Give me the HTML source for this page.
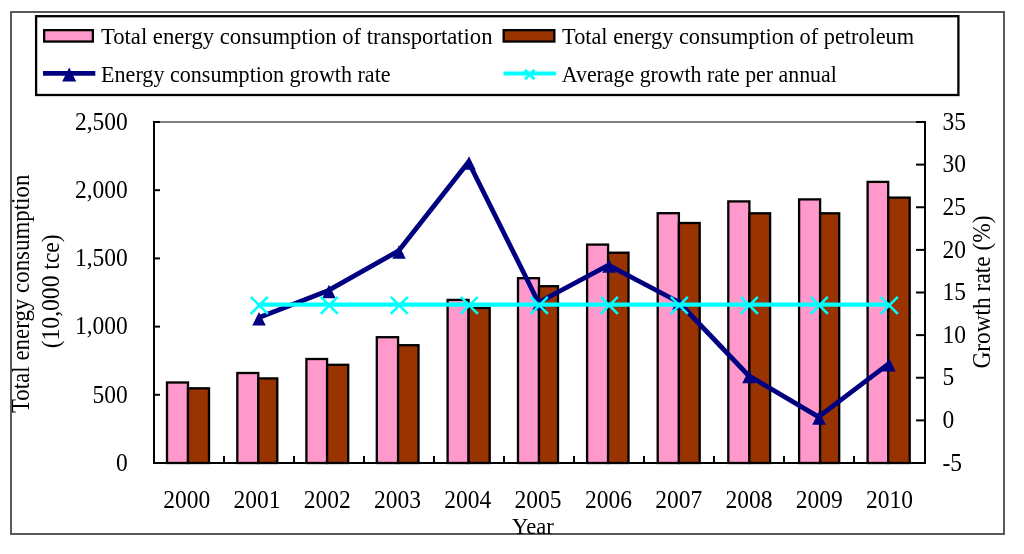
<!DOCTYPE html>
<html><head><meta charset="utf-8"><style>
html,body{margin:0;padding:0;background:#fff;width:1024px;height:554px;overflow:hidden}
svg{display:block;will-change:transform}
text{font-family:"Liberation Serif",serif;fill:#000}
</style></head><body>
<svg width="1024" height="554" viewBox="0 0 1024 554">
<rect x="0" y="0" width="1024" height="554" fill="#fff"/>
<rect x="11" y="12" width="993" height="522" fill="none" stroke="#484848" stroke-width="1.8"/>
<rect x="36.1" y="16.2" width="922.3" height="78.8" fill="none" stroke="#000" stroke-width="2.3"/>
<line x1="154.0" y1="122.0" x2="925.0" y2="122.0" stroke="#808080" stroke-width="2"/>
<rect x="167" y="382.5" width="21.00" height="80.50" fill="#FF99CC" stroke="#000" stroke-width="2.3"/>
<rect x="188" y="388.3" width="21.00" height="74.70" fill="#993300" stroke="#000" stroke-width="2.3"/>
<rect x="237.3" y="373" width="21.00" height="90.00" fill="#FF99CC" stroke="#000" stroke-width="2.3"/>
<rect x="258.3" y="378.4" width="19.00" height="84.60" fill="#993300" stroke="#000" stroke-width="2.3"/>
<rect x="306.4" y="359" width="20.70" height="104.00" fill="#FF99CC" stroke="#000" stroke-width="2.3"/>
<rect x="327.1" y="364.8" width="21.10" height="98.20" fill="#993300" stroke="#000" stroke-width="2.3"/>
<rect x="376.8" y="337.2" width="21.30" height="125.80" fill="#FF99CC" stroke="#000" stroke-width="2.3"/>
<rect x="398.1" y="345.2" width="20.40" height="117.80" fill="#993300" stroke="#000" stroke-width="2.3"/>
<rect x="447.6" y="299.9" width="21.00" height="163.10" fill="#FF99CC" stroke="#000" stroke-width="2.3"/>
<rect x="468.6" y="308" width="21.10" height="155.00" fill="#993300" stroke="#000" stroke-width="2.3"/>
<rect x="518" y="278.2" width="21.00" height="184.80" fill="#FF99CC" stroke="#000" stroke-width="2.3"/>
<rect x="539" y="286.2" width="19.00" height="176.80" fill="#993300" stroke="#000" stroke-width="2.3"/>
<rect x="587.1" y="244.6" width="21.00" height="218.40" fill="#FF99CC" stroke="#000" stroke-width="2.3"/>
<rect x="608.1" y="252.7" width="20.40" height="210.30" fill="#993300" stroke="#000" stroke-width="2.3"/>
<rect x="657.7" y="213.2" width="21.20" height="249.80" fill="#FF99CC" stroke="#000" stroke-width="2.3"/>
<rect x="678.9" y="223" width="20.80" height="240.00" fill="#993300" stroke="#000" stroke-width="2.3"/>
<rect x="728.3" y="201.4" width="21.10" height="261.60" fill="#FF99CC" stroke="#000" stroke-width="2.3"/>
<rect x="749.4" y="213.3" width="20.70" height="249.70" fill="#993300" stroke="#000" stroke-width="2.3"/>
<rect x="799.1" y="199.4" width="21.00" height="263.60" fill="#FF99CC" stroke="#000" stroke-width="2.3"/>
<rect x="820.1" y="213.3" width="19.10" height="249.70" fill="#993300" stroke="#000" stroke-width="2.3"/>
<rect x="867.6" y="181.9" width="20.60" height="281.10" fill="#FF99CC" stroke="#000" stroke-width="2.3"/>
<rect x="888.2" y="197.6" width="21.50" height="265.40" fill="#993300" stroke="#000" stroke-width="2.3"/>
<line x1="154.0" y1="121.0" x2="154.0" y2="464.0" stroke="#000" stroke-width="2"/>
<line x1="925.0" y1="121.0" x2="925.0" y2="464.0" stroke="#000" stroke-width="2"/>
<line x1="153.0" y1="463.0" x2="926.0" y2="463.0" stroke="#000" stroke-width="2"/>
<line x1="154.0" y1="122.00" x2="160.0" y2="122.00" stroke="#000" stroke-width="2"/>
<line x1="154.0" y1="190.20" x2="160.0" y2="190.20" stroke="#000" stroke-width="2"/>
<line x1="154.0" y1="258.40" x2="160.0" y2="258.40" stroke="#000" stroke-width="2"/>
<line x1="154.0" y1="326.60" x2="160.0" y2="326.60" stroke="#000" stroke-width="2"/>
<line x1="154.0" y1="394.80" x2="160.0" y2="394.80" stroke="#000" stroke-width="2"/>
<line x1="154.0" y1="463.00" x2="160.0" y2="463.00" stroke="#000" stroke-width="2"/>
<line x1="916.0" y1="122.00" x2="925.0" y2="122.00" stroke="#000" stroke-width="2"/>
<line x1="916.0" y1="164.62" x2="925.0" y2="164.62" stroke="#000" stroke-width="2"/>
<line x1="916.0" y1="207.25" x2="925.0" y2="207.25" stroke="#000" stroke-width="2"/>
<line x1="916.0" y1="249.88" x2="925.0" y2="249.88" stroke="#000" stroke-width="2"/>
<line x1="916.0" y1="292.50" x2="925.0" y2="292.50" stroke="#000" stroke-width="2"/>
<line x1="916.0" y1="335.12" x2="925.0" y2="335.12" stroke="#000" stroke-width="2"/>
<line x1="916.0" y1="377.75" x2="925.0" y2="377.75" stroke="#000" stroke-width="2"/>
<line x1="916.0" y1="420.38" x2="925.0" y2="420.38" stroke="#000" stroke-width="2"/>
<line x1="916.0" y1="463.00" x2="925.0" y2="463.00" stroke="#000" stroke-width="2"/>
<line x1="224.00" y1="456.0" x2="224.00" y2="463.0" stroke="#000" stroke-width="2"/>
<line x1="294.00" y1="456.0" x2="294.00" y2="463.0" stroke="#000" stroke-width="2"/>
<line x1="364.00" y1="456.0" x2="364.00" y2="463.0" stroke="#000" stroke-width="2"/>
<line x1="434.00" y1="456.0" x2="434.00" y2="463.0" stroke="#000" stroke-width="2"/>
<line x1="504.00" y1="456.0" x2="504.00" y2="463.0" stroke="#000" stroke-width="2"/>
<line x1="574.00" y1="456.0" x2="574.00" y2="463.0" stroke="#000" stroke-width="2"/>
<line x1="644.00" y1="456.0" x2="644.00" y2="463.0" stroke="#000" stroke-width="2"/>
<line x1="714.00" y1="456.0" x2="714.00" y2="463.0" stroke="#000" stroke-width="2"/>
<line x1="784.00" y1="456.0" x2="784.00" y2="463.0" stroke="#000" stroke-width="2"/>
<line x1="854.00" y1="456.0" x2="854.00" y2="463.0" stroke="#000" stroke-width="2"/>
<polyline points="258.50,317.70 328.50,290.40 398.50,250.90 468.50,162.00 538.50,302.50 608.50,265.10 678.50,302.00 748.50,375.50 818.50,416.90 888.50,363.80" fill="none" stroke="#000080" stroke-width="4.8" stroke-linejoin="round"/>
<polygon points="259.00,311.95 265.75,325.45 252.25,325.45" fill="#000080"/>
<polygon points="329.00,284.65 335.75,298.15 322.25,298.15" fill="#000080"/>
<polygon points="399.00,245.15 405.75,258.65 392.25,258.65" fill="#000080"/>
<polygon points="469.00,156.25 475.75,169.75 462.25,169.75" fill="#000080"/>
<polygon points="539.00,296.75 545.75,310.25 532.25,310.25" fill="#000080"/>
<polygon points="609.00,259.35 615.75,272.85 602.25,272.85" fill="#000080"/>
<polygon points="679.00,296.25 685.75,309.75 672.25,309.75" fill="#000080"/>
<polygon points="749.00,369.75 755.75,383.25 742.25,383.25" fill="#000080"/>
<polygon points="819.00,411.15 825.75,424.65 812.25,424.65" fill="#000080"/>
<polygon points="889.00,358.05 895.75,371.55 882.25,371.55" fill="#000080"/>
<line x1="259.00" y1="304.6" x2="889.00" y2="304.6" stroke="#00FFFF" stroke-width="4.3"/>
<path d="M250.80,296.80L267.80,313.80M250.80,313.80L267.80,296.80" stroke="#00FFFF" stroke-width="2.6" fill="none"/>
<path d="M320.80,296.80L337.80,313.80M320.80,313.80L337.80,296.80" stroke="#00FFFF" stroke-width="2.6" fill="none"/>
<path d="M390.80,296.80L407.80,313.80M390.80,313.80L407.80,296.80" stroke="#00FFFF" stroke-width="2.6" fill="none"/>
<path d="M460.80,296.80L477.80,313.80M460.80,313.80L477.80,296.80" stroke="#00FFFF" stroke-width="2.6" fill="none"/>
<path d="M530.80,296.80L547.80,313.80M530.80,313.80L547.80,296.80" stroke="#00FFFF" stroke-width="2.6" fill="none"/>
<path d="M600.80,296.80L617.80,313.80M600.80,313.80L617.80,296.80" stroke="#00FFFF" stroke-width="2.6" fill="none"/>
<path d="M670.80,296.80L687.80,313.80M670.80,313.80L687.80,296.80" stroke="#00FFFF" stroke-width="2.6" fill="none"/>
<path d="M740.80,296.80L757.80,313.80M740.80,313.80L757.80,296.80" stroke="#00FFFF" stroke-width="2.6" fill="none"/>
<path d="M810.80,296.80L827.80,313.80M810.80,313.80L827.80,296.80" stroke="#00FFFF" stroke-width="2.6" fill="none"/>
<path d="M880.80,296.80L897.80,313.80M880.80,313.80L897.80,296.80" stroke="#00FFFF" stroke-width="2.6" fill="none"/>
<rect x="44.15" y="30.15" width="48.7" height="11.4" fill="#FF99CC" stroke="#000" stroke-width="2.3"/>
<rect x="503.65" y="30.15" width="50.7" height="11.4" fill="#993300" stroke="#000" stroke-width="2.3"/>
<line x1="43" y1="73.4" x2="95.3" y2="73.4" stroke="#000080" stroke-width="4.6"/>
<polygon points="69.20,67.40 76.20,81.40 62.20,81.40" fill="#000080"/>
<line x1="503.5" y1="73.6" x2="555.9" y2="73.6" stroke="#00FFFF" stroke-width="4"/>
<path d="M524.95,69.75L534.45,79.25M524.95,79.25L534.45,69.75" stroke="#00FFFF" stroke-width="2.6" fill="none"/>
<text x="101.0" y="44.1" font-size="22.6" text-anchor="start" textLength="391.5" lengthAdjust="spacingAndGlyphs" >Total energy consumption of transportation</text>
<text x="562.1" y="44.1" font-size="22.6" text-anchor="start" textLength="352" lengthAdjust="spacingAndGlyphs" >Total energy consumption of petroleum</text>
<text x="101.1" y="81.8" font-size="22.6" text-anchor="start" textLength="289.5" lengthAdjust="spacingAndGlyphs" >Energy consumption growth rate</text>
<text x="561.8" y="81.6" font-size="22.6" text-anchor="start" textLength="275" lengthAdjust="spacingAndGlyphs" >Average growth rate per annual</text>
<text font-size="25" text-anchor="end" transform="translate(127.8,470.70) scale(0.94,1)">0</text>
<text font-size="25" text-anchor="end" transform="translate(127.8,402.50) scale(0.94,1)">500</text>
<text font-size="25" text-anchor="end" transform="translate(127.8,334.30) scale(0.94,1)">1,000</text>
<text font-size="25" text-anchor="end" transform="translate(127.8,266.10) scale(0.94,1)">1,500</text>
<text font-size="25" text-anchor="end" transform="translate(127.8,197.90) scale(0.94,1)">2,000</text>
<text font-size="25" text-anchor="end" transform="translate(127.8,129.70) scale(0.94,1)">2,500</text>
<text font-size="25" transform="translate(942.5,470.70) scale(0.94,1)">-5</text>
<text font-size="25" transform="translate(942.5,428.07) scale(0.94,1)">0</text>
<text font-size="25" transform="translate(942.5,385.45) scale(0.94,1)">5</text>
<text font-size="25" transform="translate(942.5,342.82) scale(0.94,1)">10</text>
<text font-size="25" transform="translate(942.5,300.20) scale(0.94,1)">15</text>
<text font-size="25" transform="translate(942.5,257.57) scale(0.94,1)">20</text>
<text font-size="25" transform="translate(942.5,214.95) scale(0.94,1)">25</text>
<text font-size="25" transform="translate(942.5,172.32) scale(0.94,1)">30</text>
<text font-size="25" transform="translate(942.5,129.70) scale(0.94,1)">35</text>
<text font-size="25" text-anchor="middle" transform="translate(186.65,507.5) scale(0.94,1)">2000</text>
<text font-size="25" text-anchor="middle" transform="translate(256.94,507.5) scale(0.94,1)">2001</text>
<text font-size="25" text-anchor="middle" transform="translate(327.23,507.5) scale(0.94,1)">2002</text>
<text font-size="25" text-anchor="middle" transform="translate(397.52,507.5) scale(0.94,1)">2003</text>
<text font-size="25" text-anchor="middle" transform="translate(467.81,507.5) scale(0.94,1)">2004</text>
<text font-size="25" text-anchor="middle" transform="translate(538.10,507.5) scale(0.94,1)">2005</text>
<text font-size="25" text-anchor="middle" transform="translate(608.39,507.5) scale(0.94,1)">2006</text>
<text font-size="25" text-anchor="middle" transform="translate(678.68,507.5) scale(0.94,1)">2007</text>
<text font-size="25" text-anchor="middle" transform="translate(748.97,507.5) scale(0.94,1)">2008</text>
<text font-size="25" text-anchor="middle" transform="translate(819.26,507.5) scale(0.94,1)">2009</text>
<text font-size="25" text-anchor="middle" transform="translate(889.55,507.5) scale(0.94,1)">2010</text>
<text font-size="23.8" text-anchor="middle" transform="translate(532.9,533.6) scale(0.95,1)">Year</text>
<text x="0" y="0" font-size="24.2" text-anchor="middle" textLength="238.5" lengthAdjust="spacingAndGlyphs" transform="translate(28.6,293.85) rotate(-90)">Total energy consumption</text>
<text x="0" y="0" font-size="24.2" text-anchor="middle" textLength="114" lengthAdjust="spacingAndGlyphs" transform="translate(58.7,291.3) rotate(-90)">(10,000 tce)</text>
<text x="0" y="0" font-size="24.5" text-anchor="middle" textLength="153" lengthAdjust="spacingAndGlyphs" transform="translate(989.9,292.05) rotate(-90)">Growth rate (%)</text>
</svg>
</body></html>
